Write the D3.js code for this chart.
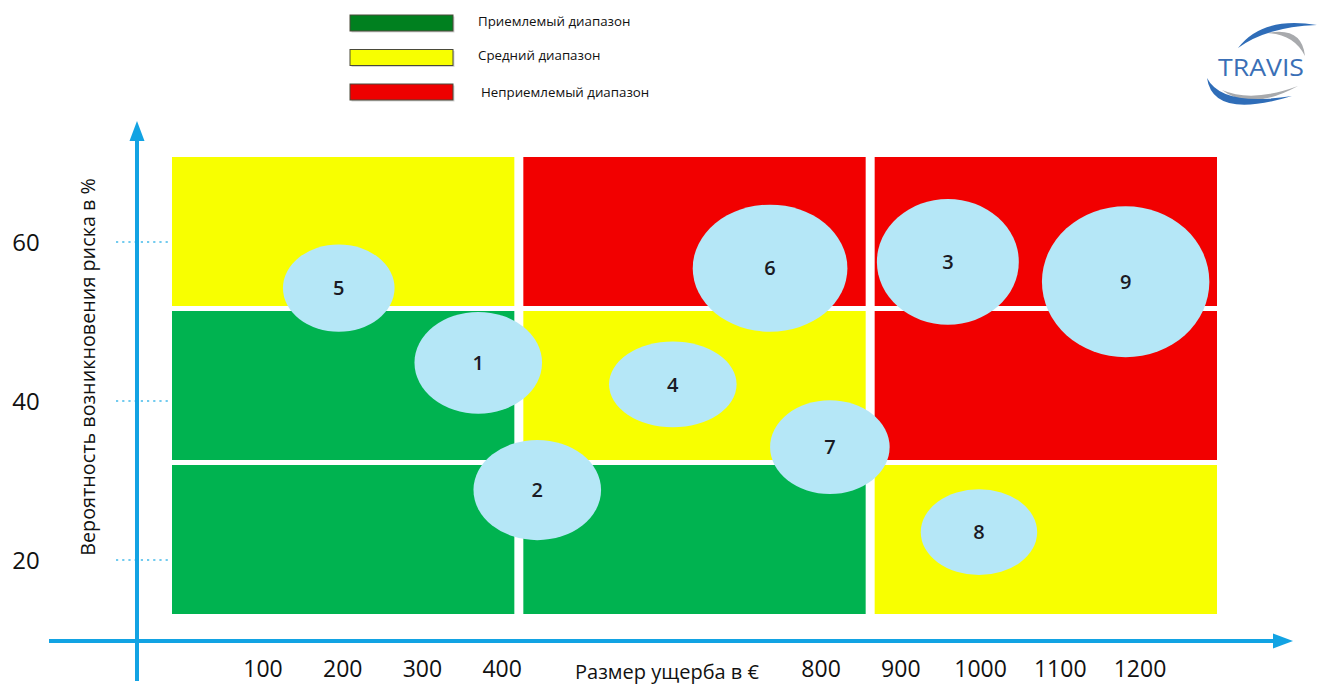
<!DOCTYPE html>
<html lang="ru">
<head>
<meta charset="utf-8">
<script src="https://cdn.jsdelivr.net/npm/d3@7"></script>
<style>
  html, body { margin: 0; padding: 0; background: #fff; }
  svg { display: block; font-family: "Open Sans", "DejaVu Sans", sans-serif; }
</style>
</head>
<body>
<svg id="chart" width="1317" height="684"></svg>
<script>
// ---- data ----
// risk zones: rows = probability band (high -> low), columns = damage band (low -> high)
const probabilityBands = ["высокая", "средняя", "низкая"];
const damageBands = ["малый", "средний", "большой"];
const zoneMatrix = [
  ["medium", "high", "high"],
  ["ok", "medium", "high"],
  ["ok", "ok", "medium"]
];

// legend entries
const legendKeys = ["ok", "medium", "high"];
const legendLabels = ["Приемлемый диапазон", "Средний диапазон", "Неприемлемый диапазон"];

// risks: id, expected damage (€), probability (%), and spread in each direction
const riskIds = [1, 2, 3, 4, 5, 6, 7, 8, 9];
const riskDamage = [370, 444, 959, 614, 195, 736, 811, 998, 1182];
const riskProbability = [44.8, 28.8, 57.5, 42.1, 54.2, 56.7, 34.2, 23.5, 55.0];
const riskDamageSpread = [80, 80, 89, 80, 70, 97, 75, 73, 105];
const riskProbabilitySpread = [6.4, 6.3, 7.9, 5.4, 5.5, 8.0, 5.9, 5.4, 9.5];

// axis tick labels
const damageTicks = [100, 200, 300, 400, 800, 900, 1000, 1100, 1200];
const probabilityTicks = [20, 40, 60];

// ---- styles ----
const zoneColor = { ok: "#00B350", medium: "#F8FF00", high: "#F20000" };
const legendColor = { ok: "#00801F", medium: "#F8FF00", high: "#EE0000" };
const axisBlue = "#12A3E3";

const svg = d3.select("#chart");

// ---- scales ----
const x = d3.scaleLinear().domain([100, 1200]).range([263, 1140]);
const y = d3.scaleLinear().domain([20, 60]).range([560, 242]);
const colBand = d3.scaleBand().domain(damageBands).range([172, 1217]).paddingInner(0.0256);
const rowBand = d3.scaleBand().domain(probabilityBands).range([157, 614]).paddingInner(0.0325);

// ---- zone grid ----
const cells = [];
probabilityBands.forEach((p, i) => damageBands.forEach((d, j) => cells.push({ p, d, z: zoneMatrix[i][j] })));
svg.append("g").selectAll("rect").data(cells).join("rect")
  .attr("x", c => colBand(c.d)).attr("y", c => rowBand(c.p))
  .attr("width", colBand.bandwidth()).attr("height", rowBand.bandwidth())
  .attr("fill", c => zoneColor[c.z]);

// ---- axes ----
const axes = svg.append("g");
// dotted guide marks at probability ticks
axes.selectAll("line.guide").data(probabilityTicks).join("line")
  .attr("class", "guide")
  .attr("x1", 116).attr("x2", 170)
  .attr("y1", d => y(d)).attr("y2", d => y(d))
  .attr("stroke", "#72CBEF").attr("stroke-width", 2.2)
  .attr("stroke-dasharray", "2.2,4");
// vertical axis with arrow
axes.append("line").attr("x1", 137).attr("x2", 137).attr("y1", 681).attr("y2", 136)
  .attr("stroke", axisBlue).attr("stroke-width", 4);
axes.append("path").attr("d", "M137,121 L129.5,141 L144.5,141 Z").attr("fill", axisBlue);
// horizontal axis with arrow
axes.append("line").attr("x1", 49).attr("x2", 1278).attr("y1", 641).attr("y2", 641)
  .attr("stroke", axisBlue).attr("stroke-width", 4);
axes.append("path").attr("d", "M1293,641 L1273,633.5 L1273,648.5 Z").attr("fill", axisBlue);

// tick labels
axes.selectAll("text.yt").data(probabilityTicks).join("text")
  .attr("class", "yt")
  .attr("x", 26).attr("y", d => y(d)).attr("dy", "0.36em")
  .attr("text-anchor", "middle").attr("font-size", 24).attr("fill", "#111")
  .text(d => d);
axes.selectAll("text.xt").data(damageTicks).join("text")
  .attr("class", "xt")
  .attr("x", d => x(d)).attr("y", 677)
  .attr("text-anchor", "middle").attr("font-size", 23).attr("fill", "#111")
  .text(d => d);

// axis titles
axes.append("text")
  .attr("x", 667).attr("y", 679)
  .attr("text-anchor", "middle").attr("font-size", 20).attr("fill", "#111")
  .text("Размер ущерба в €");
axes.append("text")
  .attr("transform", "translate(88,367) rotate(-90)")
  .attr("dy", "0.36em")
  .attr("text-anchor", "middle").attr("font-size", 19.8).attr("fill", "#111")
  .text("Вероятность возникновения риска в %");

// ---- risk ellipses ----
const risks = riskIds.map((id, i) => ({
  id, dmg: riskDamage[i], prob: riskProbability[i],
  sx: riskDamageSpread[i], sy: riskProbabilitySpread[i]
}));
const rg = svg.append("g").selectAll("g").data(risks).join("g");
rg.append("ellipse")
  .attr("cx", d => x(d.dmg)).attr("cy", d => y(d.prob))
  .attr("rx", d => x(d.dmg + d.sx) - x(d.dmg))
  .attr("ry", d => y(d.prob - d.sy) - y(d.prob))
  .attr("fill", "#B5E7F7");
rg.append("text")
  .attr("x", d => x(d.dmg)).attr("y", d => y(d.prob)).attr("dy", "0.36em")
  .attr("text-anchor", "middle").attr("font-size", 20).attr("font-weight", 600)
  .attr("fill", "#1a1a24")
  .text(d => d.id);

// ---- legend ----
const lg = svg.append("g").selectAll("g").data(legendKeys).join("g")
  .attr("transform", (d, i) => `translate(350,${23 + i * 34.5})`);
lg.append("rect").attr("x", 1.5).attr("y", -6.5).attr("width", 103).attr("height", 16)
  .attr("fill", "#bbb").attr("opacity", 0.6);
lg.append("rect").attr("x", 0).attr("y", -8).attr("width", 103).attr("height", 16)
  .attr("fill", d => legendColor[d]).attr("stroke", "#4a4a3a").attr("stroke-width", 1);
lg.append("text")
  .attr("x", (d, i) => i === 2 ? 131 : 128).attr("y", (d, i) => i === 2 ? 0 : -2).attr("dy", "0.36em")
  .attr("font-size", 13.3).attr("fill", "#111")
  .text((d, i) => legendLabels[i]);

// ---- logo ----
const logo = svg.append("g");
function crescent(a, c1, b, c2) {
  return `M${a[0]},${a[1]} Q${c1[0]},${c1[1]} ${b[0]},${b[1]} Q${c2[0]},${c2[1]} ${a[0]},${a[1]} Z`;
}
logo.append("path").attr("d", crescent([1267, 33], [1302, 26], [1305, 56], [1294, 34])).attr("fill", "#A8AAAD");
logo.append("path").attr("d", crescent([1238, 48], [1262, 16], [1317, 25], [1266, 27])).attr("fill", "#2F6DB8");
logo.append("path").attr("d", crescent([1222, 90], [1250, 112], [1298, 86], [1252, 103])).attr("fill", "#A8AAAD");
logo.append("path").attr("d", crescent([1207, 78], [1213, 120], [1292, 96], [1222, 107])).attr("fill", "#2F6DB8");
logo.append("text").attr("x", 1261).attr("y", 68).attr("dy", "0.36em")
  .attr("text-anchor", "middle").attr("font-size", 23).attr("fill", "#3A6FB6")
  .attr("font-family", "'Open Sans', sans-serif").attr("textLength", 86).attr("lengthAdjust", "spacingAndGlyphs")
  .text("TRAVIS");
</script>
</body>
</html>
